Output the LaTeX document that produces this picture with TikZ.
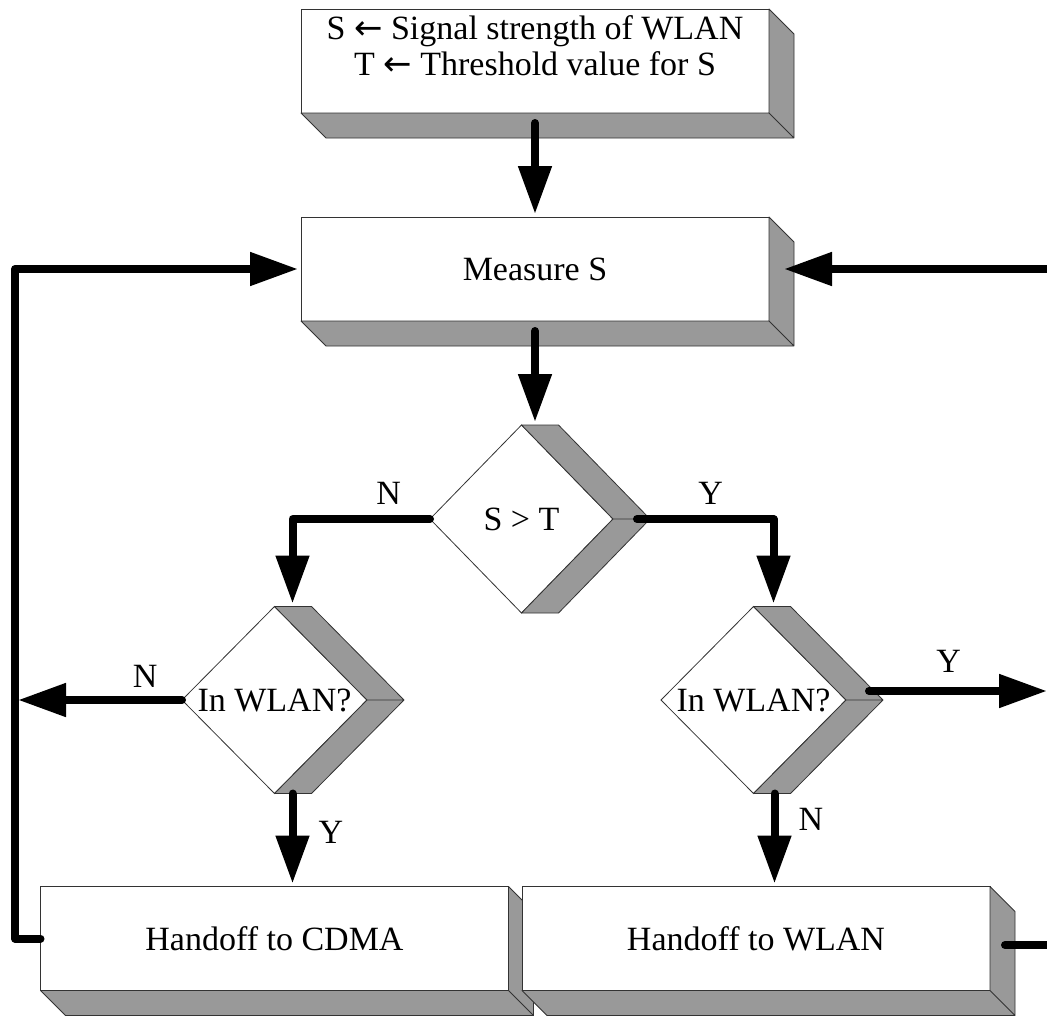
\documentclass[tikz,border=0pt]{standalone}
\usepackage{fontspec}
\setmainfont{Liberation Serif}
\newfontfamily\arrowfont{DejaVu Sans}
\usetikzlibrary{shapes.geometric,arrows.meta,calc}

\tikzset{
  block/.style={rectangle, draw=black!80, line width=0.8pt, fill=white, minimum width=468pt, minimum height=104pt, inner sep=0pt, outer sep=0pt},
  decision/.style={diamond, draw=black!80, line width=0.8pt, fill=white, minimum width=185pt, minimum height=187pt, inner sep=0pt, outer sep=0pt},
  sidewall/.style={draw=black!80, line width=0.8pt, fill=black!40, line join=round},
  flow/.style={line width=8pt, line cap=round, line join=round, -{Triangle[length=48pt,width=32pt]}, shorten >=3pt},
  tag/.style={inner sep=2pt},
}

\begin{document}
\begin{tikzpicture}[x=1pt,y=-1pt,font=\fontsize{34}{36}\selectfont]
    \useasboundingbox (0,0) rectangle (1047,1015);
    \clip (0,0) rectangle (1047,1015);

    % loop lines and free ends
    \coordinate (loopl) at (15,0);
    \coordinate (loopr) at (1062,0);
    \coordinate (edge) at (1050,0);

    % boxes and decisions
    \node (init) [block] at (535,61) {};
    \node (inittext) [align=center] at (535,46) {S {\arrowfont ←} Signal strength of WLAN\\T {\arrowfont ←} Threshold value for S};
    \node (measure) [block] at (535,269) {Measure S};
    \node (cmp) [decision, minimum width=183pt, minimum height=188pt] at (521.5,519) {S > T};
    \node (inl) [decision] at (274.5,700) {\makebox[0pt]{In WLAN?}};
    \node (inr) [decision] at (753.5,700) {\makebox[0pt]{In WLAN?}};
    \node (cdma) [block] at (274.5,938.5) {Handoff to CDMA};

    % solid sides
    \foreach \b in {init,measure,cdma}
    \draw[sidewall] (\b.north east) -- ++(25,25) -- ($(\b.south east)+(25,25)$) -- (\b.south east) -- cycle
        (\b.south west) -- (\b.south east) -- ($(\b.south east)+(25,25)$) -- ($(\b.south west)+(25,25)$) -- cycle;
    \foreach \d in {cmp,inl,inr}
    \draw[sidewall] (\d.north) -- ($(\d.north)+(37,0)$) -- ($(\d.east)+(37,0)$) -- ($(\d.south)+(37,0)$) -- (\d.south) -- (\d.east) -- cycle
        (\d.east) -- ($(\d.east)+(37,0)$);

    \node (wlan) [block] at (756,938.5) {Handoff to WLAN};
    \foreach \b in {wlan}
    \draw[sidewall] (\b.north east) -- ++(25,25) -- ($(\b.south east)+(25,25)$) -- (\b.south east) -- cycle
        (\b.south west) -- (\b.south east) -- ($(\b.south east)+(25,25)$) -- ($(\b.south west)+(25,25)$) -- cycle;

    % connectors
    \draw[flow] ($(init.south)+(0,10)$) -- (measure.north);
    \draw[flow] ($(measure.south)+(0,10)$) -- (measure.south |- cmp.north);
    \draw[flow] (cmp.west) -| ($(inl.north)+(18,0)$) node[tag, pos=0.15, above=9pt] (cmpno) {N};
    \draw[flow] ($(cmp.east)+(24,0)$) -| ($(inr.north)+(20,0)$) node[tag, pos=0.27, above=9pt] (cmpyes) {Y};
    \draw[flow] (inl.west) -- (inl.west -| loopl) node[tag, pos=0.22, above=7pt] (inlno) {N};
    \draw[flow] ($(inl.south)+(18,0)$) coordinate (inlout) -- (inlout |- cdma.north) node[tag, pos=0.42, right=20pt] (inlyes) {Y};
    \draw[flow] ($(inr.east)+(23,-9)$) coordinate (inrexit) -- (inrexit -| edge) node[tag, pos=0.44, above=13pt] (inryes) {Y};
    \draw[flow] ($(inr.south)+(21,0)$) coordinate (inrout) -- (inrout |- wlan.north) node[tag, pos=0.28, right=18pt] (inrno) {N};

    % back to measuring
    \draw[flow] (cdma.west) -- (cdma.west -| loopl) |- (measure.west);
    \draw[flow] ($(wlan.east)+(15,6.5)$) coordinate (wlanout) -- (wlanout -| loopr) |- ($(measure.east)+(12,0)$);
\end{tikzpicture}
\end{document}
